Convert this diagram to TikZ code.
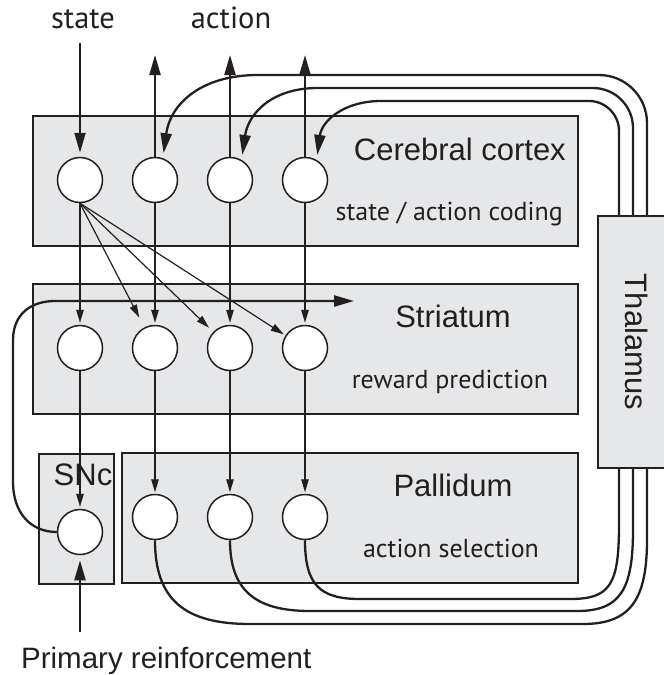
\documentclass[tikz,border=0pt]{standalone}
\usepackage{fontspec}
\setmainfont{Liberation Sans}
\newfontfamily\humfont{PT Sans}
\usetikzlibrary{arrows.meta}
\definecolor{boxgray}{RGB}{230,231,233}
\definecolor{ink}{RGB}{35,31,32}
\begin{document}
\begin{tikzpicture}[x=1pt,y=-1pt,
  region/.style={draw=ink, fill=boxgray, line width=1.5pt, inner sep=0pt, anchor=north west},
  cell/.style={circle, draw=ink, fill=white, line width=1.5pt, minimum size=45pt, inner sep=0pt},
  conn/.style={draw=ink, line width=1.2pt, -{Triangle[length=13pt,width=7.5pt]}},
  bigarrow/.style={draw=ink, line width=2.2pt, -{Triangle[length=20pt,width=11pt]}},
  loopline/.style={draw=ink, line width=2.3pt, -{Triangle[length=20pt,width=11pt]}},
  bigtext/.style={font=\fontsize{31}{36}\selectfont, inner sep=0pt, text=ink},
  humtext/.style={font=\humfont\fontsize{26}{30}\selectfont, inner sep=0pt, text=ink},
  toptext/.style={font=\humfont\fontsize{30.5}{35}\selectfont, inner sep=0pt, text=ink},
]
\useasboundingbox (0,0) rectangle (664,675);

% regions
\node[region, minimum width=545pt, minimum height=130pt] (ctx) at (32,115) {};
\node[region, minimum width=545pt, minimum height=130pt] (str) at (32,283) {};
\node[region, minimum width=75pt, minimum height=130pt] (snbox) at (38,453) {};
\node[region, minimum width=456pt, minimum height=130pt] (pal) at (121,452) {};

% labels
\node[bigtext, anchor=base east] (tctx) at (566,160) {Cerebral cortex};
\node[humtext, anchor=base east] (tctx2) at (563,220) {state / action coding};
\node[bigtext, anchor=base] (tstr) at (453,327) {Striatum};
\node[humtext, anchor=base] (tstr2) at (450,388) {reward prediction};
\node[bigtext, anchor=base] (tpal) at (453,496) {Pallidum};
\node[humtext, anchor=base] (tpal2) at (451,557) {action selection};
\node[bigtext, anchor=base] (tsn) at (83,485) {SNc};
\node[toptext, anchor=base] (tstate) at (83,28) {state};
\node[toptext, anchor=base] (taction) at (231,28) {action};
\node[font=\fontsize{29.5}{34}\selectfont, inner sep=0pt, text=ink, anchor=base west] (tprim) at (21,668) {Primary reinforcement};

% cells
\node[cell] (c1) at (80,180) {};
\node[cell] (c2) at (155,180) {};
\node[cell] (c3) at (230,180) {};
\node[cell] (c4) at (305,180) {};
\node[cell] (s1) at (80,348) {};
\node[cell] (s2) at (155,348) {};
\node[cell] (s3) at (230,348) {};
\node[cell] (s4) at (305,348) {};
\node[cell] (p1) at (155,517) {};
\node[cell] (p2) at (230,517) {};
\node[cell] (p3) at (305,517) {};
\node[cell] (sn) at (80,532) {};

% free ends
\coordinate (instate) at (80,43);
\coordinate (out2) at (155,55);
\coordinate (out3) at (230,55);
\coordinate (out4) at (305,55);
\coordinate (prim) at (80,632);
\coordinate (daout) at (354,301);

% input / output
\draw[bigarrow, shorten >=4pt] (instate) -- (c1.north);
\draw[bigarrow] (c2.north) -- (out2);
\draw[bigarrow] (c3.north) -- (out3);
\draw[bigarrow] (c4.north) -- (out4);
\draw[bigarrow, shorten >=5pt] (prim) -- (sn.south);

% cortex -> striatum
\draw[conn, shorten >=2pt] (c1.south) -- (s1.north);
\draw[conn, shorten >=2pt] (c2.south) -- (s2.north);
\draw[conn, shorten >=2pt] (c3.south) -- (s3.north);
\draw[conn, shorten >=2pt] (c4.south) -- (s4.north);
\draw[conn, shorten >=11pt] (c1.south) -- (s2);
\draw[conn, shorten >=6pt] (c1.south) -- (s3);
\draw[conn, shorten >=2pt] (c1.south) -- (s4);

% striatum -> pallidum / SNc
\draw[conn, shorten >=2pt] (s1.south) -- (sn.north);
\draw[conn, shorten >=1.5pt] (s2.south) -- (p1.north);
\draw[conn, shorten >=1.5pt] (s3.south) -- (p2.north);
\draw[conn, shorten >=1.5pt] (s4.south) -- (p3.north);

% SNc dopamine loop
\draw[loopline] (sn.west) .. controls (30,532) and (13,512) .. (13,482) -- (13,340)
  .. controls (13,315) and (30,301) .. (55,301) -- (daout);

% pallidum -> thalamus -> cortex loops
\draw[loopline, shorten >=5pt] (p1.south) .. controls (155,600) and (185,624) .. (250,624) -- (583,624)
  .. controls (630,624) and (647,600) .. (647,540) -- (647,123)
  .. controls (647,96.5) and (625.5,75) .. (599,75) -- (258,75)
  .. controls (200,75) and (170,105) .. (c2.70);
\draw[loopline, shorten >=5pt] (p2.south) .. controls (230,590) and (255,611) .. (310,611) -- (577,611)
  .. controls (620,611) and (633,590) .. (633,530) -- (633,128)
  .. controls (633,105.9) and (615.1,88) .. (593,88) -- (318,88)
  .. controls (270,88) and (248,115) .. (c3.60);
\draw[loopline, shorten >=5pt] (p3.south) .. controls (305,585) and (320,599) .. (360,599) -- (570,599)
  .. controls (610,599) and (619,585) .. (619,525) -- (619,131)
  .. controls (619,114.4) and (605.6,101) .. (589,101) -- (381,101)
  .. controls (345,101) and (322,120) .. (c4.60);

% thalamus on top of loops
\node[region, minimum width=100pt, minimum height=252pt] (thal) at (597,215) {};
\node[bigtext, rotate=-90] (tthal) at (637,342) {Thalamus};
\end{tikzpicture}
\end{document}
